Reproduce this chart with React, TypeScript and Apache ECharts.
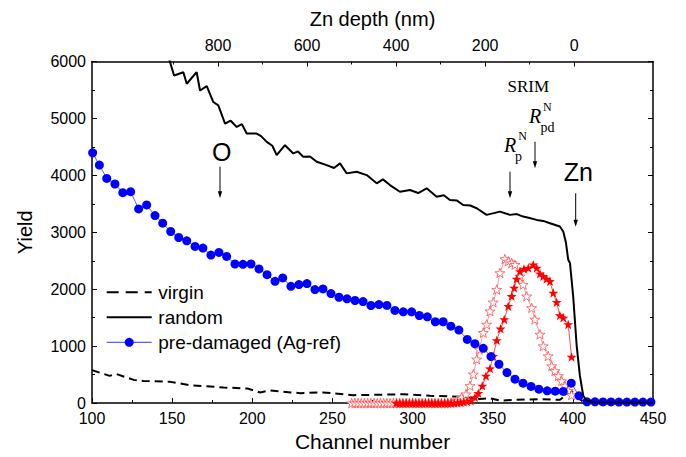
import React, { useEffect, useRef } from "react";
import * as echarts from "echarts";

// ---------- axes ----------
const X_MIN = 100;
const X_MAX = 450;
const X_INTERVAL = 50;
const Y_MIN = 0;
const Y_MAX = 6000;
const Y_INTERVAL = 1000;
// Zn depth (nm) at the left and right edges of the channel axis
const DEPTH_AT_LEFT = 1083;
const DEPTH_AT_RIGHT = -177;
const DEPTH_MAJOR = [0, 200, 400, 600, 800];
const DEPTH_MINOR = [100, 300, 500, 700, 900];

const LEGEND_NAMES = ["virgin", "random", "pre-damaged (Ag-ref)"];

// ---------- data: [channel, yield] ----------
const virgin: [number, number][] = [
  [100, 580], [111, 478], [115, 513], [126, 408], [132, 390], [149, 373],
  [161, 315], [174, 292], [182, 274], [197, 257], [205, 187], [211, 222],
  [224, 187], [230, 175], [244, 187], [263, 140], [280, 146], [294, 157],
  [311, 128], [332, 111], [342, 70], [348, 87], [355, 41], [363, 58],
  [380, 70], [392, 58], [399, 215], [402, 128], [407, 12], [420, 5],
  [450, 5],
];

const random: [number, number][] = [
  [147, 6150], [151.2, 5754], [157.0, 5812], [159.1, 5609], [165.3, 5812],
  [167.4, 5491], [171.6, 5567], [175.7, 5288], [178.8, 5230], [183.0, 4909],
  [186.5, 4960], [190.3, 4850], [193.5, 4900], [196.5, 4735], [202.7, 4735],
  [205.5, 4690], [209.0, 4588], [212.5, 4520], [215.2, 4355], [220.4, 4530],
  [225.6, 4385], [228.5, 4420], [231.8, 4325], [236.0, 4330], [240.2, 4238],
  [246.4, 4180], [251.0, 4130], [254.7, 4210], [258.9, 4035], [265.1, 4063],
  [271.4, 4005], [277.6, 3860], [281.5, 3930], [285.9, 3830], [292.1, 3713],
  [298.4, 3743], [303.5, 3690], [308.8, 3772], [315.0, 3626], [319.5, 3650],
  [323.3, 3568], [327.5, 3560], [331.6, 3480], [336.0, 3470], [340.0, 3422],
  [346.2, 3306], [354.5, 3363], [360.7, 3306], [365.0, 3320], [369.0, 3276],
  [373.0, 3250], [377.4, 3218], [381.5, 3200], [385.7, 3160], [391.9, 3101],
  [394.0, 3014], [395.7, 2815], [397.1, 2519], [398.2, 2460], [400.2, 1877],
  [402.4, 1002], [404.4, 478], [406.5, 128], [408.6, 40], [412, 15],
  [430, 10], [450, 10],
];

const preDamaged: [number, number][] = [
  [100.4, 4396], [104.6, 4180], [109.2, 3947], [114.3, 3848], [119.2, 3696],
  [124.1, 3713], [129.1, 3410], [134.1, 3480], [139.3, 3293], [144.1, 3160],
  [149.1, 3014], [154.1, 2909], [159.1, 2851], [164.3, 2751], [169.2, 2723],
  [174.2, 2600], [179.2, 2646], [184.0, 2576], [189.2, 2443], [194.2, 2437],
  [199.2, 2443], [204.2, 2356], [209.2, 2256], [214.2, 2139], [219.0, 2198],
  [224.1, 2052], [229.1, 2081], [234.1, 2099], [239.1, 1994], [244.1, 2006],
  [249.1, 1924], [254.1, 1859], [259.1, 1831], [264.1, 1802], [269.1, 1784],
  [274.0, 1714], [279.0, 1731], [284.0, 1715], [289.0, 1627], [294.2, 1604],
  [299.4, 1604], [304.2, 1539], [309.2, 1516], [314.2, 1429], [319.1, 1429],
  [323.9, 1352], [328.9, 1282], [334.1, 1119], [338.9, 1044], [344.1, 962],
  [348.9, 817], [353.9, 682], [358.9, 537], [363.9, 420], [368.9, 350],
  [373.9, 292], [378.8, 245], [384.0, 215], [389.0, 210], [394.0, 205],
  [399.0, 350], [403.8, 128], [408.8, 23], [413.8, 22], [418.8, 20],
  [423.8, 20], [428.7, 18], [433.7, 18], [438.7, 18], [443.7, 18],
  [448.7, 18],
];

// SRIM-like profile, hollow stars
const hollowStars: [number, number][] = [
  [262, 0], [264, 0], [266, 0], [268, 0], [270, 0], [272, 0], [274, 0],
  [276, 0], [278, 0], [280, 0], [282, 0], [284, 0], [286, 0], [288, 0],
  [290, 0], [292, 0], [294, 0], [296, 0], [298, 0], [300, 0], [302, 0],
  [304, 0], [306, 0], [308, 0], [310, 0], [312, 0], [314, 0], [316, 0],
  [318, 0], [320, 0], [322, 5], [324, 10], [325.5, 20],
  [327.5, 40], [330.6, 99], [333.3, 157], [335.8, 303], [337.9, 507],
  [340.0, 770], [341.6, 944], [344.1, 1236], [346.2, 1382], [348.3, 1614],
  [350.3, 1772], [352.5, 1994], [354.5, 2286], [357.6, 2531], [359.7, 2490],
  [361.8, 2461], [363.9, 2431], [367.0, 2227], [369.0, 2081], [371.2, 1877],
  [374.3, 1673], [376.3, 1469], [379.5, 1207], [381.5, 1002], [384.6, 827],
  [386.8, 652], [388.8, 565], [390.9, 478], [393.0, 390], [395.1, 303],
  [397.1, 220], [399.2, 140],
];

// filled stars
const filledStars: [number, number][] = [
  [290, 0], [292, 0], [294, 0], [296, 0], [298, 0], [300, 0], [302, 0],
  [304, 0], [306, 0], [308, 0], [310, 0], [312, 0], [314, 0], [316, 0],
  [318, 0], [320, 0], [322, 0], [324, 0], [326, 2], [328, 5], [330, 10],
  [332, 20], [334, 30],
  [336.2, 40], [338.9, 99], [341.0, 175], [343.5, 303], [345.8, 478],
  [348.3, 607], [350.3, 827], [352.5, 1102], [354.9, 1306], [357.2, 1469],
  [359.7, 1702], [361.8, 1877], [363.4, 2024], [364.9, 2181], [367.0, 2314],
  [369.5, 2356], [372.2, 2373], [375.3, 2431], [377.4, 2373], [379.5, 2274],
  [381.5, 2227], [383.6, 2181], [385.7, 2139], [387.8, 1936], [389.9, 1772],
  [391.9, 1539], [394.0, 1499], [397.1, 1382], [399.2, 810],
];

const FONT = "'Liberation Sans', Arial, Helvetica, sans-serif";
const SERIF = "'Liberation Serif', 'Times New Roman', serif";
const STAR =
  "path://M0,-10 L2.35,-3.24 L9.51,-3.09 L3.8,1.24 L5.88,8.09 L0,4 L-5.88,8.09 L-3.8,1.24 L-9.51,-3.09 L-2.35,-3.24 Z";

function arrow(x: number, y1: number, y2: number) {
  return [
    { type: "line", shape: { x1: x, y1, x2: x, y2: y2 - 5 }, style: { stroke: "#000", lineWidth: 1 } },
    {
      type: "polygon",
      shape: { points: [[x - 2.2, y2 - 7], [x + 2.2, y2 - 7], [x, y2]] },
      style: { fill: "#000" },
    },
  ];
}

// legend drawn as graphic elements (icon line, optional dot, text)
function legendRows() {
  const left = 106.7;
  const width = 45;
  const top = 292.3;
  const pitch = 25;
  const styles = [
    { stroke: "#000", lineWidth: 2, lineDash: [12, 7] as number[] | undefined, dot: false },
    { stroke: "#000", lineWidth: 2, lineDash: undefined, dot: false },
    { stroke: "#3333ff", lineWidth: 1, lineDash: undefined, dot: true },
  ];
  const els: any[] = [];
  LEGEND_NAMES.forEach((name, i) => {
    const y = top + i * pitch;
    const s = styles[i];
    els.push({
      type: "line",
      shape: { x1: left, y1: y, x2: left + width, y2: y },
      style: { stroke: s.stroke, lineWidth: s.lineWidth, lineDash: s.lineDash },
    });
    if (s.dot) {
      els.push({ type: "circle", shape: { cx: left + width / 2, cy: y, r: 4.5 }, style: { fill: "#0000ff" } });
    }
    els.push({
      type: "text",
      x: left + width + 6.6,
      y,
      style: { text: name, font: `19px ${FONT}`, fill: "#000", align: "left", verticalAlign: "middle" },
    });
  });
  return els;
}

export default function App() {
  const ref = useRef<HTMLDivElement>(null);
  useEffect(() => {
    if (!ref.current) return;
    const chart = echarts.init(ref.current, undefined, { renderer: "svg" });
    const axisLine = { show: true, onZero: false, lineStyle: { color: "#000", width: 1.5 } };
    const label16 = { fontSize: 16, color: "#000", fontFamily: FONT };
    const tick = { color: "#000", width: 1 };
    chart.setOption({
      animation: false,
      backgroundColor: "#fff",
      grid: { left: 92, right: 33, top: 61.5, bottom: 52.5, containLabel: false },
      xAxis: [
        {
          type: "value",
          min: X_MIN,
          max: X_MAX,
          interval: X_INTERVAL,
          position: "bottom",
          axisLine,
          axisTick: { inside: true, length: 5, lineStyle: tick },
          minorTick: { show: true, splitNumber: 2, length: 3, lineStyle: tick },
          splitLine: { show: false },
          axisLabel: { ...label16, margin: 7, formatter: (v: number) => String(v) },
          name: "Channel number",
          nameLocation: "middle",
          nameGap: 16,
          nameTextStyle: { fontSize: 21, color: "#000", fontFamily: FONT },
        },
        {
          type: "value",
          position: "top",
          inverse: true,
          min: DEPTH_AT_RIGHT,
          max: DEPTH_AT_LEFT,
          axisLine,
          axisTick: { inside: true, length: 5, customValues: DEPTH_MAJOR, lineStyle: tick },
          splitLine: { show: false },
          axisLabel: { ...label16, margin: 8, customValues: DEPTH_MAJOR, formatter: (v: number) => String(v) },
          name: "Zn depth (nm)",
          nameLocation: "middle",
          nameGap: 33,
          nameTextStyle: { fontSize: 20, color: "#000", fontFamily: FONT },
        },
        {
          type: "value",
          position: "top",
          inverse: true,
          min: DEPTH_AT_RIGHT,
          max: DEPTH_AT_LEFT,
          axisLine: { show: false, onZero: false },
          axisTick: { inside: true, length: 3, customValues: DEPTH_MINOR, lineStyle: tick },
          splitLine: { show: false },
          axisLabel: { show: false },
        },
      ],
      yAxis: [
        {
          type: "value",
          min: Y_MIN,
          max: Y_MAX,
          interval: Y_INTERVAL,
          position: "left",
          axisLine,
          axisTick: { inside: true, length: 5, lineStyle: tick },
          minorTick: { show: true, splitNumber: 2, length: 3, lineStyle: tick },
          splitLine: { show: false },
          axisLabel: { ...label16, margin: 6, formatter: (v: number) => String(v) },
          name: "Yield",
          nameLocation: "middle",
          nameGap: 57,
          nameTextStyle: { fontSize: 20, color: "#000", fontFamily: FONT },
        },
        {
          type: "value",
          min: Y_MIN,
          max: Y_MAX,
          interval: Y_INTERVAL,
          position: "right",
          axisLine,
          axisTick: { inside: true, length: 5, lineStyle: tick },
          minorTick: { show: true, splitNumber: 2, length: 3, lineStyle: tick },
          splitLine: { show: false },
          axisLabel: { show: false },
        },
      ],
      series: [
        {
          name: "virgin",
          type: "line",
          data: virgin,
          symbol: "none",
          color: "#000",
          lineStyle: { color: "#000", width: 2, type: [8, 5] },
          z: 2,
        },
        {
          name: "hollow",
          type: "line",
          data: hollowStars,
          symbol: STAR,
          symbolSize: 10,
          symbolKeepAspect: true,
          color: "#ff6a6a",
          itemStyle: { color: "#fff", borderColor: "#ff4d4d", borderWidth: 0.8 },
          lineStyle: { color: "#ff7b7b", width: 0.8 },
          z: 3,
        },
        {
          name: "filled",
          type: "line",
          data: filledStars,
          symbol: STAR,
          symbolSize: 10,
          symbolKeepAspect: true,
          color: "#ff0000",
          itemStyle: { color: "#ff0000" },
          lineStyle: { color: "#ff2020", width: 0.8 },
          z: 4,
        },
        {
          name: "pre-damaged (Ag-ref)",
          type: "line",
          data: preDamaged,
          symbol: "circle",
          symbolSize: 9,
          color: "#0000ff",
          itemStyle: { color: "#0000ff" },
          lineStyle: { color: "#3333ff", width: 0.8 },
          z: 5,
        },
        {
          name: "random",
          type: "line",
          data: random,
          symbol: "none",
          color: "#000",
          lineStyle: { color: "#000", width: 2 },
          z: 6,
        },
      ],
      graphic: [
        ...legendRows(),
        { type: "text", x: 221.7, y: 152.3, style: { text: "O", font: `25px ${FONT}`, fill: "#000", align: "center", verticalAlign: "middle" } },
        ...arrow(220, 166.7, 198.3),
        { type: "text", x: 578.3, y: 171.7, style: { text: "Zn", font: `25px ${FONT}`, fill: "#000", align: "center", verticalAlign: "middle" } },
        ...arrow(575.7, 193.3, 226.7),
        { type: "text", x: 528.3, y: 86.7, style: { text: "SRIM", font: `17px ${SERIF}`, fill: "#000", align: "center", verticalAlign: "middle" } },
        { type: "text", x: 529, y: 115.5, style: { text: "R", font: `italic 20px ${SERIF}`, fill: "#000", align: "left", verticalAlign: "middle" } },
        { type: "text", x: 543, y: 106.5, style: { text: "N", font: `12px ${SERIF}`, fill: "#000", align: "left", verticalAlign: "middle" } },
        { type: "text", x: 540.5, y: 127, style: { text: "pd", font: `14px ${SERIF}`, fill: "#000", align: "left", verticalAlign: "middle" } },
        ...arrow(535, 141.7, 168.3),
        { type: "text", x: 504, y: 144.5, style: { text: "R", font: `italic 20px ${SERIF}`, fill: "#000", align: "left", verticalAlign: "middle" } },
        { type: "text", x: 518.3, y: 135.5, style: { text: "N", font: `12px ${SERIF}`, fill: "#000", align: "left", verticalAlign: "middle" } },
        { type: "text", x: 515, y: 156, style: { text: "p", font: `14px ${SERIF}`, fill: "#000", align: "left", verticalAlign: "middle" } },
        ...arrow(510, 171.7, 198.3),
      ],
    });
    return () => chart.dispose();
  }, []);
  return (
    <div
      ref={ref}
      style={{ position: "fixed", left: 0, top: 0, width: 686, height: 457, background: "#fff" }}
    />
  );
}
